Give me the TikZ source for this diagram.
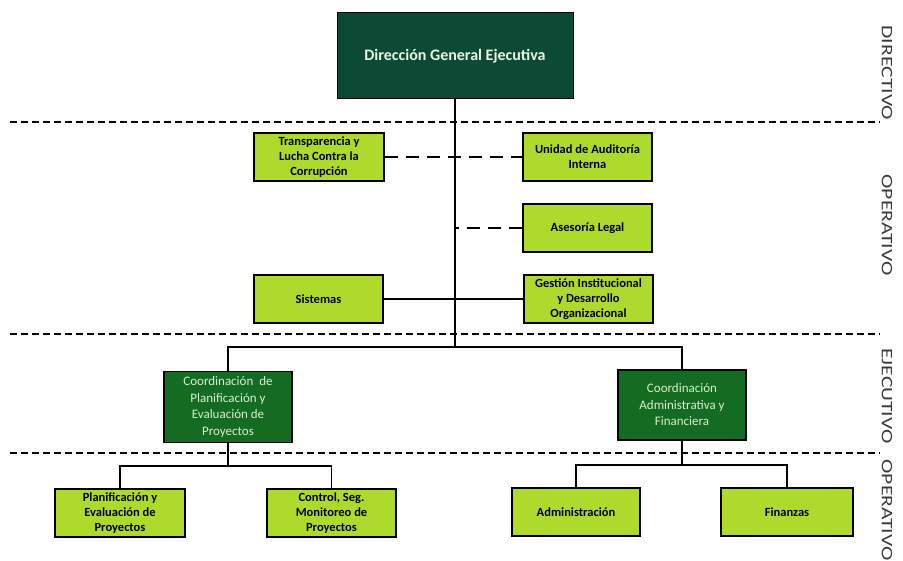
\documentclass[tikz,border=0pt]{standalone}
\usepackage{fontspec}
\setmainfont{Carlito}
\newfontfamily\levelfont[FakeStretch=1.35]{Carlito}
\definecolor{dirgreen}{HTML}{0D4A35}
\definecolor{coordgreen}{HTML}{146B22}
\definecolor{opgreen}{HTML}{AEDA2E}
\definecolor{coordtext}{HTML}{D8F0CC}
\definecolor{labelgray}{HTML}{3A3A3A}
\begin{document}
\begin{tikzpicture}[x=1pt,y=-1pt,
	lightbox/.style={draw=black,line width=1.6pt,fill=opgreen,align=center,
	  inner sep=1pt,font=\fontsize{12.5}{14.8}\selectfont\bfseries},
	coordbox/.style={draw=black,line width=1.6pt,fill=coordgreen,align=center,
	  inner sep=1pt,text=coordtext,font=\fontsize{13}{16.5}\selectfont},
	levelsep/.style={line width=1.5pt,dash pattern=on 7pt off 4pt},
	dashlink/.style={line width=1.6pt,dash pattern=on 13pt off 8pt},
	link/.style={line width=1.1pt},
	level/.style={rotate=-90,text=labelgray,font=\levelfont\fontsize{16}{16}\selectfont}]
	\useasboundingbox (0,0) rectangle (903,561);
	% levels
	\draw[levelsep] (10,122) -- (880,122)
	  (10,334) -- (880,334)
	  (10,453) -- (880,453);
	\node[level] (ldir) at (887,73) {DIRECTIVO};
	\node[level] (lop1) at (887,225) {OPERATIVO};
	\node[level] (lejec) at (887,396) {EJECUTIVO};
	\node[level] (lop2) at (887,510) {OPERATIVO};
	% boxes
	\node[draw=black,line width=1pt,fill=dirgreen,minimum width=236pt,minimum height=86pt,
	  text=coordtext!60!white,font=\fontsize{16}{18}\selectfont\bfseries]
	  (dir) at (455,56) {Dirección General Ejecutiva};
	\node[lightbox,minimum width=130pt,minimum height=48pt] (transp) at (319,157)
	  {Transparencia y\\Lucha Contra la\\Corrupción};
	\node[lightbox,minimum width=129pt,minimum height=48pt] (audit) at (587.5,157)
	  {Unidad de Auditoría\\Interna};
	\node[lightbox,minimum width=129pt,minimum height=48pt] (legal) at (587.5,228)
	  {Asesoría Legal};
	\node[lightbox,minimum width=129pt,minimum height=48pt] (sist) at (318.5,299)
	  {Sistemas};
	\node[lightbox,minimum width=129pt,minimum height=48pt] (gest) at (588.5,299)
	  {Gestión Institucional\\y Desarrollo\\Organizacional};
	\node[coordbox,minimum width=128pt,minimum height=71pt] (cplan) at (228,407)
	  {Coordinación~ de\\Planificación y\\Evaluación de\\Proyectos};
	\node[coordbox,minimum width=128pt,minimum height=70pt] (cadm) at (682,405)
	  {Coordinación\\Administrativa y\\Financiera};
	\node[lightbox,minimum width=130pt,minimum height=48pt] (planif) at (120,513)
	  {Planificación y\\Evaluación de\\Proyectos};
	\node[lightbox,minimum width=129pt,minimum height=48pt] (control) at (331.5,513)
	  {Control, Seg.\\Monitoreo de\\Proyectos};
	\node[lightbox,minimum width=128pt,minimum height=48pt] (admin) at (576,512)
	  {Administración};
	\node[lightbox,minimum width=132pt,minimum height=48pt] (finan) at (787,512)
	  {Finanzas};
	% links
	\coordinate (bus) at (455,347);
	\coordinate (lowl) at (228,466);
	\coordinate (lowr) at (682,465);
	\draw[link] (dir.south) -- (bus);
	\draw[link] (cplan.north) |- (bus) -| (cadm.north);
	\draw[link] (sist.east) -- (gest.west);
	\draw[dashlink] (transp.east) -- (audit.west);
	\draw[dashlink] (legal.west) -- (legal.west -| bus);
	\draw[link] (cplan.south) -- (lowl);
	\draw[link] (planif.north) |- (lowl) -| (control.north);
	\draw[link] (cadm.south) -- (lowr);
	\draw[link] (admin.north) |- (lowr) -| (finan.north);
\end{tikzpicture}
\end{document}
